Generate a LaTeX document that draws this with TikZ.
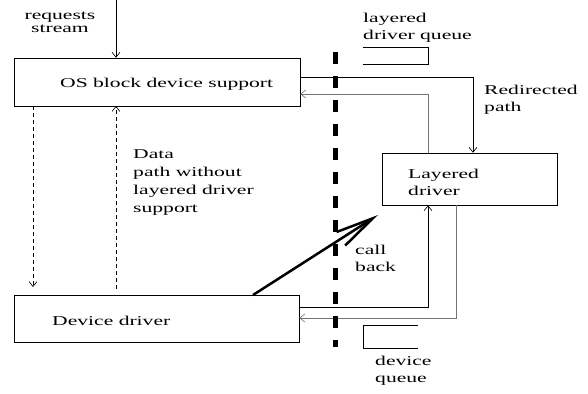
\documentclass[tikz,border=0pt]{standalone}
\usepackage{fontspec}
\setmainfont[FakeStretch=1.6]{Liberation Serif}
\usetikzlibrary{arrows.meta}
\begin{document}
\begin{tikzpicture}[x=1pt,y=-1pt,
  box/.style={draw,line width=0.6pt,inner sep=0},
  lbl/.style={inner sep=0,anchor=north west,align=left,font=\fontsize{13.5}{17}\selectfont},
  conn/.style={line width=0.6pt,-{Straight Barb[length=5pt,width=8pt]}},
  back/.style={conn,draw=black!55},
  dline/.style={line width=0.6pt,dash pattern=on 4pt off 3pt},
  wall/.style={line width=5pt,dash pattern=on 12pt off 12pt},
  qline/.style={line width=0.6pt}]
\useasboundingbox (0,0) rectangle (588,393);

% boxes
\node[box,minimum width=286pt,minimum height=48pt] (os) at (157,82) {};
\node[box,minimum width=175pt,minimum height=52pt] (lay) at (469.5,179) {};
\node[box,minimum width=285pt,minimum height=47pt] (dev) at (156.5,318.5) {};

% box labels
\node[lbl] (ostext) at (60,78) {OS block device support};
\node[lbl] (laytext) at (408,169) {Layered\\driver};
\node[lbl] (devtext) at (52,316) {Device driver};

% free labels
\node[lbl,align=center,anchor=north,font=\fontsize{13.5}{13}\selectfont] (req) at (60,12) {requests\\stream};
\node[lbl] (ldq) at (363,13) {layered\\driver queue};
\node[lbl] (redir) at (484,85) {Redirected\\path};
\node[lbl,font=\fontsize{13.5}{18}\selectfont] (data) at (133,149) {Data\\path without\\layered driver\\support};
\node[lbl] (cbk) at (355,245) {call\\back};
\node[lbl] (dq) at (375,356) {device\\queue};

% helper points for the routed connectors
\coordinate (top) at (116,0);
\coordinate (r1) at (473,77);
\coordinate (r2) at (428,94);
\coordinate (r3) at (428,307);
\coordinate (r4) at (456,318);
\coordinate (cb) at (378,215);
\coordinate (w1) at (335,52);
\coordinate (w2) at (335,347);

% incoming requests
\draw[conn] (top) -- (top |- os.north);

% redirected path through the layered driver
\draw[conn] (os.east |- r1) -| (r1 |- lay.north);
\draw[back] (r2 |- lay.north) |- (os.east |- r2);
\draw[conn] (dev.east |- r3) -| (r3 |- lay.south);
\draw[back] (r4 |- lay.south) |- (dev.east |- r4);

% direct data path
\draw[dline,-{Straight Barb[length=5pt,width=8pt]}] (33,106) -- (33,287);
\draw[dline,-{Straight Barb[length=5pt,width=8pt]}] (116,289) -- (116,106);

% call back
\draw[line width=2.5pt,-{Straight Barb[length=38pt,width=16pt]}] (253,295) -- (cb);

% boundary
\draw[wall] (w1) -- (w2);

% queues
\draw[qline] (363,47) -- (428,47) -- (428,64) -- (363,64);
\draw[qline] (418,325) -- (363,325) -- (363,348) -- (418,348);
\end{tikzpicture}
\end{document}
